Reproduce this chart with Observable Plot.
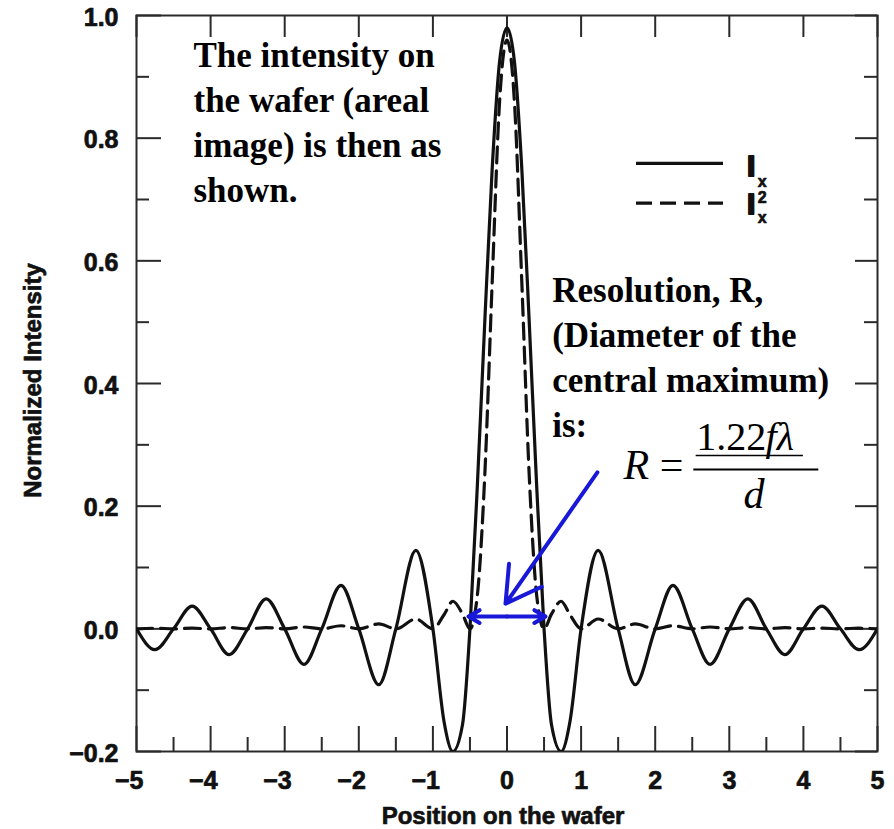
<!DOCTYPE html>
<html>
<head>
<meta charset="utf-8">
<script src="https://cdn.jsdelivr.net/npm/d3@7"></script>
<script src="https://cdn.jsdelivr.net/npm/@observablehq/plot@0.6"></script>
<style>
  html, body { margin: 0; padding: 0; background: #fff; }
  #chart svg { display: block; }
</style>
</head>
<body>
<div id="chart"></div>
<script>
// Position on the wafer (x) and readings of the two curves
const positions = [-5, -4.75, -4.5, -4.25, -4, -3.75, -3.5, -3.25, -3, -2.74, -2.5, -2.24, -2, -1.73, -1.5, -1.23, -1, -0.85, -0.73, -0.6, -0.5, -0.4, -0.3, -0.2, -0.1, 0, 0.1, 0.2, 0.3, 0.4, 0.5, 0.6, 0.73, 0.85, 1, 1.23, 1.5, 1.73, 2, 2.24, 2.5, 2.74, 3, 3.25, 3.5, 3.75, 4, 4.25, 4.5, 4.75, 5];
const intensityIx = [0, -0.034, 0, 0.037, 0, -0.042, 0, 0.049, 0, -0.058, 0, 0.071, 0, -0.091, 0, 0.128, 0, -0.151, -0.2, -0.156, 0, 0.234, 0.5, 0.75, 0.925, 0.98, 0.925, 0.75, 0.5, 0.234, 0, -0.156, -0.2, -0.151, 0, 0.128, 0, -0.091, 0, 0.071, 0, -0.058, 0, 0.049, 0, -0.042, 0, 0.037, 0, -0.034, 0];
const intensityIx2 = [0, 0.001, 0, 0.001, 0, 0.002, 0, 0.002, 0, 0.003, 0, 0.005, 0, 0.008, 0, 0.016, 0, 0.023, 0.045, 0.024, 0, 0.055, 0.25, 0.565, 0.86, 0.96, 0.86, 0.565, 0.25, 0.055, 0, 0.024, 0.045, 0.023, 0, 0.016, 0, 0.008, 0, 0.005, 0, 0.003, 0, 0.002, 0, 0.002, 0, 0.001, 0, 0.001, 0];

// Tick values
const xMajorTicks = [-5, -4, -3, -2, -1, 0, 1, 2, 3, 4, 5];
const xMinorTicks = [-4.5, -3.5, -2.5, -1.5, -0.5, 0.5, 1.5, 2.5, 3.5, 4.5];
const yMajorTicks = [-0.2, 0, 0.2, 0.4, 0.6, 0.8, 1.0];
const yMinorTicks = [-0.1, 0.1, 0.3, 0.5, 0.7, 0.9];

// Texts
const xTitle = "Position on the wafer";
const yTitle = "Normalized Intensity";
const noteTop = "The intensity on\nthe wafer (areal\nimage) is then as\nshown.";
const noteRes = "Resolution, R,\n(Diameter of the\ncentral maximum)\nis:";

const data = positions.map((x, i) => ({x, ix: intensityIx[i], ix2: intensityIx2[i]}));

const W = 894, H = 829, mL = 136, mR = 17, mT = 15, mB = 78;
const fw = W - mL - mR, fh = H - mT - mB;
const sans = "'Liberation Sans', Arial, Helvetica, sans-serif";
const serif = "'Liberation Serif', 'Times New Roman', serif";
const ink = "#2a2a2a";
const blue = "#1818d8";
const lbl = {fontFamily: sans, fontWeight: "bold", fill: "#111", stroke: "#111", strokeWidth: 0.7};
const dash = "16,8";

const chart = Plot.plot({
  width: W, height: H,
  marginLeft: mL, marginRight: mR, marginTop: mT, marginBottom: mB,
  x: {domain: [-5, 5], axis: null},
  y: {domain: [-0.2, 1.0], axis: null},
  style: {background: "#fff", fontFamily: sans},
  marks: [
    // inward ticks
    Plot.tickX(xMajorTicks, {x: d => d, insetTop: fh - 25, stroke: ink, strokeWidth: 2}),
    Plot.tickX(xMinorTicks, {x: d => d, insetTop: fh - 14, stroke: ink, strokeWidth: 2}),
    Plot.tickX(xMajorTicks, {x: d => d, insetBottom: fh - 22, stroke: ink, strokeWidth: 2}),
    Plot.tickY(yMajorTicks, {y: d => d, insetRight: fw - 25, stroke: ink, strokeWidth: 2}),
    Plot.tickY(yMinorTicks, {y: d => d, insetRight: fw - 13, stroke: ink, strokeWidth: 2}),
    Plot.tickY(yMajorTicks, {y: d => d, insetLeft: fw - 22, stroke: ink, strokeWidth: 2}),
    Plot.tickY(yMinorTicks, {y: d => d, insetLeft: fw - 13, stroke: ink, strokeWidth: 2}),
    Plot.frame({stroke: ink, strokeWidth: 2}),
    // tick labels
    Plot.text(xMajorTicks, {x: d => d, text: d => d3.format("d")(d), frameAnchor: "bottom", dy: 29, dx: 7, textAnchor: "end", lineAnchor: "middle", fontSize: 25, ...lbl}),
    Plot.text(yMajorTicks, {y: d => d, text: d => d3.format(".1f")(d), frameAnchor: "left", dx: -18, dy: 2, textAnchor: "end", lineAnchor: "middle", fontSize: 25, ...lbl}),
    // axis titles
    Plot.text([xTitle], {frameAnchor: "bottom", dy: 72, dx: -4, textAnchor: "middle", lineAnchor: "bottom", fontSize: 24, ...lbl}),
    Plot.text([yTitle], {frameAnchor: "left", dx: -103, dy: -3, rotate: -90, textAnchor: "middle", lineAnchor: "middle", fontSize: 24, ...lbl}),
    // curves
    Plot.line(data, {x: "x", y: "ix", curve: "monotone-x", stroke: "#111", strokeWidth: 3.2, clip: true}),
    Plot.line(data, {x: "x", y: "ix2", curve: "monotone-x", stroke: "#111", strokeWidth: 3.2, strokeDasharray: dash, clip: true}),
    // legend
    Plot.ruleY([0.759], {x1: 1.748, x2: 2.922, stroke: "#111", strokeWidth: 3.2}),
    Plot.ruleY([0.694], {x1: 1.748, x2: 2.922, stroke: "#111", strokeWidth: 3.2, strokeDasharray: dash}),
    Plot.text(["I"], {x: 3.24, y: 0.739, textAnchor: "start", lineAnchor: "bottom", fontSize: 30, ...lbl, strokeWidth: 2}),
    Plot.text(["x"], {x: 3.385, y: 0.721, textAnchor: "start", lineAnchor: "bottom", fontSize: 16, ...lbl}),
    Plot.text(["I"], {x: 3.24, y: 0.677, textAnchor: "start", lineAnchor: "bottom", fontSize: 30, ...lbl, strokeWidth: 2}),
    Plot.text(["2"], {x: 3.385, y: 0.695, textAnchor: "start", lineAnchor: "bottom", fontSize: 16, ...lbl}),
    Plot.text(["x"], {x: 3.385, y: 0.661, textAnchor: "start", lineAnchor: "bottom", fontSize: 16, ...lbl}),
    // annotation texts
    Plot.text([noteTop], {x: -4.231, y: 0.696, textAnchor: "start", lineAnchor: "bottom", lineHeight: 1.286, fontSize: 35, fontWeight: "bold", fontFamily: serif, fill: "#000"}),
    Plot.text([noteRes], {x: 0.61, y: 0.3125, textAnchor: "start", lineAnchor: "bottom", lineHeight: 1.286, fontSize: 35, fontWeight: "bold", fontFamily: serif, fill: "#000"}),
    // formula R = 1.22 f λ / d
    Plot.text(["R"], {x: 1.572, y: 0.2435, textAnchor: "start", lineAnchor: "bottom", fontSize: 42, fontStyle: "italic", fontFamily: serif, fill: "#000"}),
    Plot.text(["="], {x: 2.06, y: 0.2435, textAnchor: "start", lineAnchor: "bottom", fontSize: 42, fontFamily: serif, fill: "#000"}),
    Plot.text(["1.22"], {x: 2.553, y: 0.2908, textAnchor: "start", lineAnchor: "bottom", fontSize: 40, fontFamily: serif, fill: "#000"}),
    Plot.text(["fλ"], {x: 3.49, y: 0.2908, textAnchor: "start", lineAnchor: "bottom", fontSize: 40, fontStyle: "italic", fontFamily: serif, fill: "#000"}),
    Plot.ruleY([0.2826], {x1: 2.553, x2: 4.0, stroke: "#000", strokeWidth: 1.5}),
    Plot.ruleY([0.2598], {x1: 2.521, x2: 4.208, stroke: "#000", strokeWidth: 2}),
    Plot.text(["d"], {x: 3.192, y: 0.1962, textAnchor: "start", lineAnchor: "bottom", fontSize: 42, fontStyle: "italic", fontFamily: serif, fill: "#000"}),
    // blue arrows
    Plot.arrow([0], {x1: 1.22, y1: 0.255, x2: -0.02, y2: 0.041, stroke: blue, strokeWidth: 4, headLength: 15}),
    Plot.arrow([0], {x1: 0, y1: 0.02, x2: -0.52, y2: 0.02, stroke: blue, strokeWidth: 4, headLength: 12}),
    Plot.arrow([0], {x1: 0, y1: 0.02, x2: 0.52, y2: 0.02, stroke: blue, strokeWidth: 4, headLength: 12})
  ]
});
document.getElementById("chart").appendChild(chart);
</script>
</body>
</html>
